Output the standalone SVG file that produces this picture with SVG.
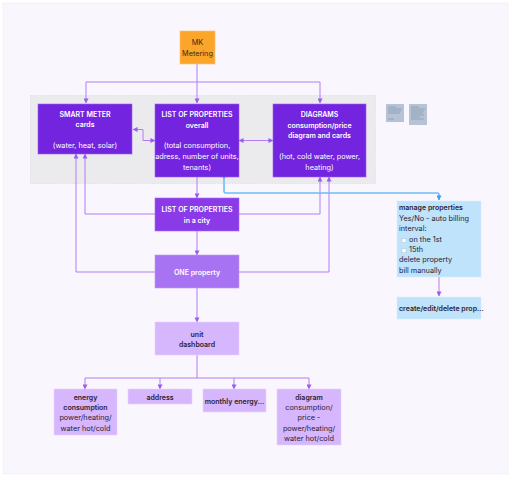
<svg xmlns="http://www.w3.org/2000/svg" width="512" height="477" viewBox="0 0 512 477">
<defs>
<style>
text{font-family:Inter,"Liberation Sans",sans-serif;font-size:7.3px}
.b{font-weight:600;font-size:7px}
.w{fill:#ffffff}
.d{fill:#2b2233}
.c{text-anchor:middle}
.conn{fill:none;stroke:#b37cf2;stroke-width:1}
.blue{fill:none;stroke:#6ebcf5;stroke-width:1.6}
</style>
<marker id="ar" viewBox="0 0 6 6" refX="5.5" refY="3" markerWidth="5" markerHeight="5" markerUnits="userSpaceOnUse" orient="auto-start-reverse"><path d="M0,0 L6,3 L0,6 z" fill="#9d5cf0"/></marker>
<marker id="arb" viewBox="0 0 6 6" refX="5.5" refY="3" markerWidth="5" markerHeight="5" markerUnits="userSpaceOnUse" orient="auto"><path d="M0,0 L6,3 L0,6 z" fill="#3d9af0"/></marker>
</defs>
<rect x="0" y="0" width="512" height="477" fill="#ffffff"/>
<rect x="3" y="3" width="505" height="471" fill="#f9f6fd" stroke="#eeeaf4" stroke-width="0.6"/>
<rect id="group-frame" x="30.5" y="95.5" width="345" height="88" fill="#ebebee" stroke="#d8d8dc" stroke-width="0.6" stroke-dasharray="1.5 1"/>
<g id="stickies">
<rect x="386" y="104" width="18" height="18" fill="#b6c3d7"/>
<rect x="409" y="104" width="18" height="21" fill="#b6c3d7"/>
<g stroke="#7d8aa0" stroke-width="0.6">
<path d="M388,107H396M388,109H402M388,111H401M388,113H400M388,119H394"/>
<path d="M411,107H419M411,109H425M411,111H424M411,113H423M411,115H424M411,117H420M411,119H424"/>
</g>
</g>
<g id="connectors">
<path class="conn" d="M197,64V103" marker-end="url(#ar)"/>
<path class="conn" d="M197,82H86V103" marker-end="url(#ar)"/>
<path class="conn" d="M197,82H320V103" marker-end="url(#ar)"/>
<path class="conn" d="M133,129.5H143V140.5H155" marker-start="url(#ar)" marker-end="url(#ar)"/>
<path class="conn" d="M239,140.5H273" marker-start="url(#ar)" marker-end="url(#ar)"/>
<path class="conn" d="M197,177V198" marker-end="url(#ar)"/>
<path class="conn" d="M197,231V255" marker-end="url(#ar)"/>
<path class="conn" d="M155,214H85V154" marker-end="url(#ar)"/>
<path class="conn" d="M155,272H76V154" marker-end="url(#ar)"/>
<path class="conn" d="M239,214H320V177" marker-end="url(#ar)"/>
<path class="conn" d="M239,272H329V177" marker-end="url(#ar)"/>
<path class="conn" d="M197,288V322" marker-end="url(#ar)"/>
<path class="conn" d="M197,355V378H85V389" marker-end="url(#ar)"/>
<path class="conn" d="M197,378H309V389" marker-end="url(#ar)"/>
<path class="conn" d="M160,378V389" marker-end="url(#ar)"/>
<path class="conn" d="M234,378V389" marker-end="url(#ar)"/>
<path class="conn" d="M439,277V296" marker-end="url(#ar)"/>
<path class="blue" d="M224,177V191Q224,193 226,193H437Q439,193 439,195V200" marker-end="url(#arb)"/>
<circle cx="224" cy="177" r="1.3" fill="#3d9af0"/>
</g>
<g id="mk-metering">
<rect x="180" y="31" width="35" height="33" fill="#fca52b" stroke="#ffc36b" stroke-width="0.6"/>
<text class="c" x="197.5" y="45.3" fill="#3a2a12">MK</text>
<text class="c" x="197.5" y="56" fill="#3a2a12">Metering</text>
</g>
<g id="smart-meter">
<rect x="38" y="104" width="94" height="50" fill="#7324df" stroke="#9a5ff0" stroke-width="0.6"/>
<text class="c w b" x="85" y="116.7">SMART METER</text>
<text class="c w b" x="85" y="127.4">cards</text>
<text class="c w" x="85" y="147.7">(water, heat, solar)</text>
</g>
<g id="list-overall">
<rect x="155" y="104" width="84" height="73" fill="#7324df" stroke="#9a5ff0" stroke-width="0.6"/>
<text class="c w b" x="197" y="117.4">LIST OF PROPERTIES</text>
<text class="c w b" x="197" y="128">overall</text>
<text class="c w" x="197" y="148.4">(total consumption,</text>
<text class="c w" x="197" y="159">adress, number of units,</text>
<text class="c w" x="197" y="169.7">tenants)</text>
</g>
<g id="diagrams">
<rect x="273" y="104" width="93" height="73" fill="#7324df" stroke="#9a5ff0" stroke-width="0.6"/>
<text class="c w b" x="319.5" y="117.4">DIAGRAMS</text>
<text class="c w b" x="319.5" y="128">consumption/price</text>
<text class="c w b" x="319.5" y="138.4">diagram and cards</text>
<text class="c w" x="319.5" y="159.4">(hot, cold water, power,</text>
<text class="c w" x="319.5" y="170">heating)</text>
</g>
<g id="list-city">
<rect x="155" y="198" width="84" height="33" fill="#8b3ae8" stroke="#a66ef0" stroke-width="0.6"/>
<text class="c w b" x="197" y="212">LIST OF PROPERTIES</text>
<text class="c w b" x="197" y="222.6">in a city</text>
</g>
<g id="one-property">
<rect x="155" y="255" width="84" height="33" fill="#a873f2" stroke="#c29af6" stroke-width="0.6"/>
<text class="c w b" x="197" y="274.5">ONE property</text>
</g>
<g id="unit-dashboard">
<rect x="155" y="322" width="84" height="33" fill="#d6b6fc" stroke="#e6d2fd" stroke-width="0.6"/>
<text class="c d b" x="197" y="336.5">unit</text>
<text class="c d b" x="197" y="347">dashboard</text>
</g>
<g id="energy-consumption">
<rect x="54" y="389" width="63" height="46" fill="#d6b6fc" stroke="#e6d2fd" stroke-width="0.6"/>
<text class="c d b" x="85.5" y="399.7">energy</text>
<text class="c d b" x="85.5" y="410">consumption</text>
<text class="c d" x="85.5" y="420.4">power/heating/</text>
<text class="c d" x="85.5" y="430.7">water hot/cold</text>
</g>
<g id="address">
<rect x="128" y="389" width="64" height="15" fill="#d6b6fc" stroke="#e6d2fd" stroke-width="0.6"/>
<text class="c d b" x="160" y="399.5">address</text>
</g>
<g id="monthly-energy">
<rect x="203" y="389" width="63" height="23" fill="#d6b6fc" stroke="#e6d2fd" stroke-width="0.6"/>
<text class="c d b" x="234.5" y="403.6">monthly energy...</text>
</g>
<g id="diagram">
<rect x="277" y="389" width="64" height="56" fill="#d6b6fc" stroke="#e6d2fd" stroke-width="0.6"/>
<text class="c d b" x="309" y="399.7">diagram</text>
<text class="c d" x="309" y="410">consumption/</text>
<text class="c d" x="309" y="420.4">price -</text>
<text class="c d" x="309" y="430.7">power/heating/</text>
<text class="c d" x="309" y="441">water hot/cold</text>
</g>
<g id="manage-properties">
<rect x="397" y="201" width="84" height="76" fill="#bee3fb" stroke="#d6eefd" stroke-width="0.6"/>
<text class="d b" x="399" y="210.4">manage properties</text>
<text class="d" x="399" y="221">Yes/No - auto billing</text>
<text class="d" x="399" y="231.4">interval:</text>
<rect x="402" y="238.5" width="4" height="4" fill="#ffffff" stroke="#a9b4bf" stroke-width="0.4"/>
<text class="d" x="409" y="241.7">on the 1st</text>
<rect x="402" y="248.8" width="4" height="4" fill="#ffffff" stroke="#a9b4bf" stroke-width="0.4"/>
<text class="d" x="409" y="252">15th</text>
<text class="d" x="399" y="262.4">delete property</text>
<text class="d" x="399" y="272.7">bill manually</text>
</g>
<g id="create-edit">
<rect x="397" y="297" width="84" height="22" fill="#bee3fb" stroke="#d6eefd" stroke-width="0.6"/>
<text class="d b" x="399" y="310.7">create/edit/delete prop...</text>
</g>
</svg>
